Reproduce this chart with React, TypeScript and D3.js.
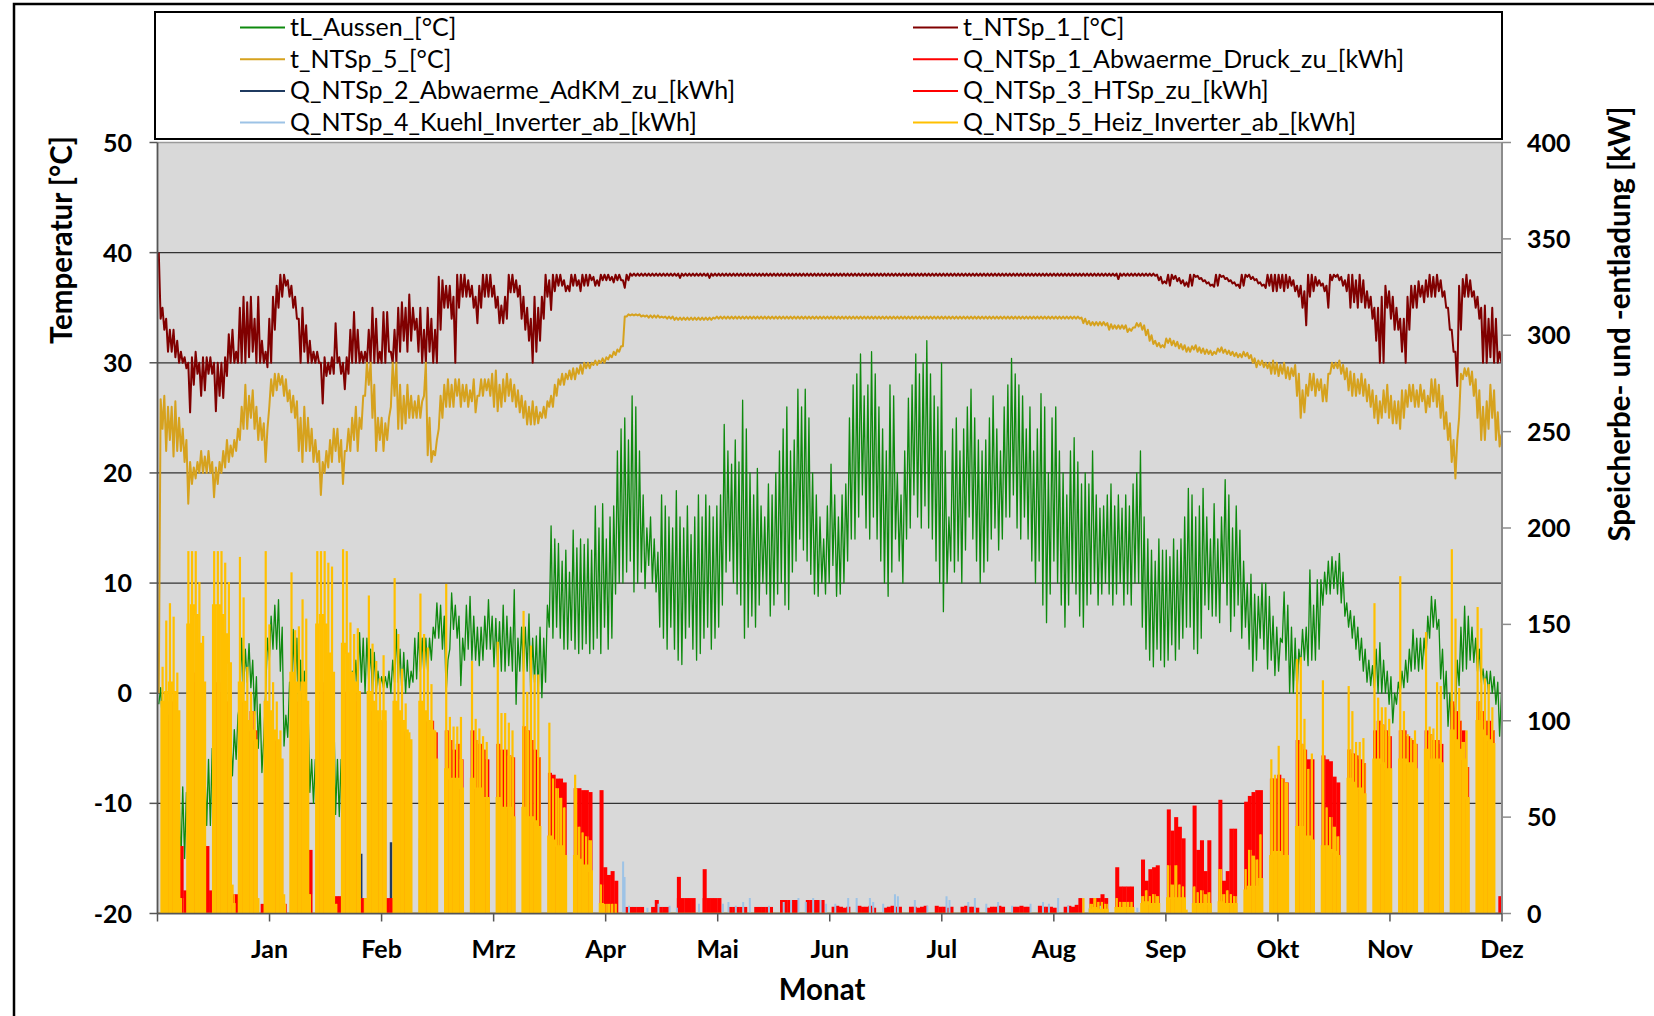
import React from "react";
import * as d3 from "d3";

// ---------- axes / categories ----------
const monthLabels = ["Jan", "Feb", "Mrz", "Apr", "Mai", "Jun", "Jul", "Aug", "Sep", "Okt", "Nov", "Dez"];
const tempTicks = [-20, -10, 0, 10, 20, 30, 40, 50];
const powerTicks = [0, 50, 100, 150, 200, 250, 300, 350, 400];
const DAYS = 365;

const seriesNames = [
  "tL_Aussen_[°C]", "t_NTSp_1_[°C]",
  "t_NTSp_5_[°C]", "Q_NTSp_1_Abwaerme_Druck_zu_[kWh]",
  "Q_NTSp_2_Abwaerme_AdKM_zu_[kWh]", "Q_NTSp_3_HTSp_zu_[kWh]",
  "Q_NTSp_4_Kuehl_Inverter_ab_[kWh]", "Q_NTSp_5_Heiz_Inverter_ab_[kWh]",
];
const seriesColors = ["#0E8A0E", "#800000", "#D6A21E", "#FF0000", "#1F3A60", "#FF0000", "#9DC3E6", "#FFC000"];

// ---------- daily values (one row = one week, day 0 .. 364) ----------
// tL_Aussen daily minimum / maximum [°C]
const tAussenMin = [
  -1, -3, -5, -9, -12, -15, -15.5,
  -15, -14, -13, -12, -12, -12.5, -12,
  -12, -10, -9, -9, -8, -8, -7.5,
  -6, -1, 0, 1, 0.5, -2, -5,
  -7.2, 0, 3, 4, 4, 2, -4.8,
  -4, -1, 0, -2, -3, -5, -9,
  -10, -10, -6, -3, -2, -6, -11,
  -11.2, -8, -5, -2, 0, 0, 1,
  0, 1, 0, 0, 0.5, 0.5, 0.5,
  0, 1, 1, 0, 0, 0.5, 1,
  1.3, 2, 1.5, 2, 3, 5, 5,
  4, 0, 4, 5.8, 5, 0.7, 3,
  4, 3, 3, 2.5, 3, 4, 4,
  2.4, 2.4, 2, 2, 2.5, 2, -1,
  2, 2, 2, -0.4, 1, 0, -0.4,
  1, 6, 5, 6, 5, 4, 4,
  4.8, 4, 3.6, 4, 4.5, 3.6, 4,
  5, 3.6, 6, 4, 5, 9, 10,
  10, 11, 12, 9.2, 10, 11, 9.5,
  11.6, 10, 9.2, 6, 5, 4, 6,
  4, 3, 2.6, 5, 6, 4, 3,
  3.6, 5, 6, 4, 5, 6, 8,
  11, 12, 10, 9, 8, 5, 6,
  7, 6, 8, 10, 9, 7, 8,
  9, 10, 8, 7.6, 11, 12, 14,
  13, 12, 10.8, 9, 8.8, 10, 9,
  10, 11.6, 8.8, 9, 10, 12, 14,
  14, 16, 18, 15, 14, 16, 14,
  12, 10, 8.8, 11, 14, 12, 10,
  14, 15, 18, 16, 15, 17, 15,
  14, 12, 10, 7.4, 10, 12, 11,
  12, 10, 13, 16, 14, 12, 10,
  11, 12, 14, 15, 13, 14, 16,
  16, 18, 15, 14, 16, 14, 12,
  10, 12, 8, 6.4, 9, 12, 10,
  8, 6, 8, 10, 9, 7, 6,
  8, 9, 10, 8, 9, 10, 9,
  8, 9, 10, 8, 9, 8, 10,
  10, 6, 4, 3, 2.4, 4, 3,
  2.4, 3, 4.4, 3, 4, 5, 6,
  6, 4, 3.6, 5, 8, 7.6, 7,
  7, 6.4, 10, 8, 5.6, 7, 8,
  5, 6, 4, 2, 3, 5, 4,
  2.2, 3, 1.6, 2, 4.6, 3, 0,
  0, 0, 2.5, 3, 2.5, 3, 3,
  4, 8, 9, 9, 9.5, 9, 8.2,
  7, 6, 5, 4, 3, 2, 1,
  0.7, 0.5, 0, 0, 0, -1, -2.7,
  -1, 0, 0.5, 1, 2, 2.2, 2,
  2.2, 3, 5, 6, 5.8, 1.3, -0.5,
  -3, -4.2, -2, 0.7, 2, 2.2, 3,
  2.8, 2, 1, 0.5, 0, 0, -1,
  -3.9,
];
const tAussenMax = [
  0.5, -1, -2, -4, -8, -9, -8.5,
  -9, -8, -7, -7, -7, -7, -6,
  -5, -4, -5, -5, -4, -4, -3.3,
  -2, 5, 4, 4.5, 3, 1.5, -1,
  -4, 5, 7, 8, 8.5, 6, -2,
  1, 5.8, 5, 3, 2, -1, -6,
  -6, -5, -1, 1, 1, -1, -6,
  -6, -3, 0, 2, 3, 5.5, 5,
  5, 4, 3.7, 2, 1.5, 1.5, 2,
  3, 5.8, 4, 3.7, 3, 2, 5,
  5.5, 5, 5, 5, 6, 8.2, 8,
  7, 3, 9.1, 8, 7, 5, 8,
  8.8, 7, 6, 6, 7, 8.5, 7,
  6.8, 6.5, 8, 7, 6, 9.4, 5,
  6, 6, 7.2, 5, 5.2, 6, 5,
  8, 15.2, 14, 13.6, 12, 13, 11,
  14.8, 13.2, 14, 13.5, 14, 13, 17,
  15, 17.2, 14, 16, 17, 22, 24,
  25, 23, 27, 26, 22, 18, 15,
  16, 14, 12.8, 18, 17, 16, 15,
  18.4, 16, 15, 17, 14.4, 16, 18,
  16, 18, 17, 16, 17, 18, 24.4,
  22, 20.8, 23, 21, 26.6, 24, 20,
  18, 20.4, 17, 16, 19, 18, 20,
  22, 24, 26, 22, 23, 27.6, 26,
  27.6, 25, 20, 18, 16, 14, 17,
  20.8, 18, 16, 18, 19, 25, 28,
  29, 30.8, 27, 28, 31, 29, 26,
  24, 22, 28, 27, 20, 18, 22,
  26.8, 28, 30.8, 29, 30, 32, 29,
  27, 26, 30, 22, 16, 24, 25,
  22, 24, 26, 27.6, 25, 23, 22,
  23, 25, 27, 24, 22, 26, 28,
  30.4, 29, 28, 27, 24, 26, 22,
  24, 27.2, 26, 20, 25, 26, 22,
  20, 18, 22, 23.2, 21, 19, 20,
  19, 22, 18, 16.8, 17, 18, 19,
  17, 18, 16.8, 18, 17, 19, 20,
  22, 16, 14, 13, 12, 14, 13,
  13, 12.4, 14, 13, 14, 16, 18.6,
  18, 16, 17, 18.6, 16, 14, 17.2,
  14, 16, 19.4, 18, 15, 17, 14.8,
  12, 10, 10.8, 9, 8.8, 10, 10,
  8.8, 7, 6, 5, 9.2, 8, 6,
  5, 4, 5.8, 6, 11.2, 8, 10.3,
  10.3, 11, 12, 12.4, 12, 12.7, 11,
  8.2, 7.5, 7, 6, 5, 4, 3,
  2.5, 4, 4.6, 3, 2, 1.5, 0,
  1, 2, 3, 4, 5.8, 5, 5,
  5, 7, 8.8, 8.5, 6.7, 4, 2,
  0, -1, 3, 6, 7.9, 7, 6,
  5, 4, 2.2, 2, 2, 1.5, 1,
  0,
];

// t_NTSp_1 daily maximum / minimum [°C]
const tNTSp1Max = [
  40, 35, 34, 33, 33, 32, 31,
  30.5, 30, 30.5, 31, 30, 30.5, 30.5,
  30.5, 30, 30, 30, 30.5, 32.6, 33,
  31, 35, 36, 35.5, 36, 34, 36,
  32, 31, 34, 36, 37, 38, 38,
  37.5, 37, 36, 34, 35, 33.4, 32,
  31, 31, 30, 30.5, 30, 30.5, 33.6,
  30.5, 30, 30.5, 33, 34.6, 33, 31,
  31, 33, 35, 34, 31, 34.6, 34.6,
  31, 33, 35, 35.5, 35, 36.2, 35,
  34, 35, 33, 35, 34, 33, 37.8,
  37.5, 37, 37, 36, 38, 38, 38,
  37.5, 37, 36, 37, 38, 38, 38,
  37, 36, 35.2, 36, 38, 38, 37.5,
  37, 36, 35, 34, 36, 35, 36,
  38, 37.5, 38, 38, 38, 37.5, 37,
  38, 38, 37.5, 38, 38, 38, 37.8,
  37.5, 38, 38, 38, 37.8, 38, 38,
  37.5, 38, 38.1, 38.1, 38.1, 38.1, 38.1,
  38.1, 38.1, 38.1, 38.1, 38.1, 38.1, 38.1,
  38.1, 38.1, 38.1, 38.1, 38.1, 38.1, 38.1,
  38.1, 38.1, 38.1, 38.1, 38.1, 38.1, 38.1,
  38.1, 38.1, 38.1, 38.1, 38.1, 38.1, 38.1,
  38.1, 38.1, 38.1, 38.1, 38.1, 38.1, 38.1,
  38.1, 38.1, 38.1, 38.1, 38.1, 38.1, 38.1,
  38.1, 38.1, 38.1, 38.1, 38.1, 38.1, 38.1,
  38.1, 38.1, 38.1, 38.1, 38.1, 38.1, 38.1,
  38.1, 38.1, 38.1, 38.1, 38.1, 38.1, 38.1,
  38.1, 38.1, 38.1, 38.1, 38.1, 38.1, 38.1,
  38.1, 38.1, 38.1, 38.1, 38.1, 38.1, 38.1,
  38.1, 38.1, 38.1, 38.1, 38.1, 38.1, 38.1,
  38.1, 38.1, 38.1, 38.1, 38.1, 38.1, 38.1,
  38.1, 38.1, 38.1, 38.1, 38.1, 38.1, 38.1,
  38.1, 38.1, 38.1, 38.1, 38.1, 38.1, 38.1,
  38.1, 38.1, 38.1, 38.1, 38.1, 38.1, 38.1,
  38.1, 38.1, 38.1, 38.1, 38.1, 38.1, 38.1,
  38.1, 38.1, 38.1, 38.1, 38.1, 38.1, 38.1,
  38.1, 38.1, 38.1, 38.1, 38.1, 38.1, 38.1,
  38.1, 38.1, 38.1, 38.1, 38.1, 38, 37.8,
  37.4, 38, 38, 37.9, 37.7, 37.5, 37.3,
  38, 38, 37.9, 37.7, 37.5, 37.3, 37.1,
  38, 38, 37.9, 37.7, 37.5, 37.3, 37.1,
  38, 38, 38, 37.8, 37.6, 37.3, 37.1,
  38, 38, 38, 38, 38, 38, 37.8,
  37.5, 37, 37, 36.5, 38, 38, 37.8,
  37.5, 37.2, 37, 38, 38, 38, 37.8,
  37.5, 38, 38, 37.5, 38, 37.5, 36.5,
  36, 35, 35, 36, 37, 36.5, 36,
  35, 34, 34, 36, 37, 37, 37.4,
  37, 37.5, 38, 37.8, 38, 37.5, 36.5,
  35, 33, 31, 37, 37.6, 38, 37.5,
  36.5, 36, 35, 35.2, 34, 35, 34,
  31,
];
const tNTSp1Min = [
  34, 33, 31, 31, 30.5, 30, 30,
  29.5, 25.5, 28, 29, 27, 27.5, 29,
  29, 25.6, 27, 26.8, 28.8, 30, 30,
  30, 30, 30, 30.5, 31, 30, 30,
  30, 29.6, 30, 33, 35, 36, 37,
  36, 35, 34, 30, 31, 30, 30,
  30, 30, 26.3, 28.8, 29, 29, 30,
  29, 27.6, 29, 30, 30, 30, 30,
  30, 30, 30, 30, 30, 30, 31,
  30, 30, 31, 32, 31, 32, 33,
  31, 30, 30, 31, 30, 30, 33,
  35, 35, 34, 30, 35, 36, 36,
  36, 35, 33.6, 35, 36, 36, 36,
  35, 33.6, 33.6, 34, 36.4, 36.4, 36,
  34, 33, 32, 30, 31, 32, 34,
  36, 34.8, 36.5, 37, 37, 36.5, 36.5,
  37, 37, 36.5, 37, 37, 37.5, 37,
  37, 37.5, 37.5, 37.5, 37.3, 37.5, 37.5,
  36.8, 37.5, 37.9, 37.9, 37.9, 37.9, 37.9,
  37.9, 37.9, 37.9, 37.9, 37.9, 37.9, 37.9,
  37.9, 37.7, 37.9, 37.9, 37.9, 37.9, 37.9,
  37.9, 37.9, 37.7, 37.9, 37.9, 37.9, 37.9,
  37.9, 37.9, 37.9, 37.9, 37.9, 37.9, 37.9,
  37.9, 37.9, 37.9, 37.9, 37.9, 37.9, 37.9,
  37.9, 37.9, 37.9, 37.9, 37.9, 37.9, 37.9,
  37.9, 37.9, 37.9, 37.9, 37.9, 37.9, 37.9,
  37.9, 37.9, 37.9, 37.9, 37.9, 37.9, 37.9,
  37.9, 37.9, 37.9, 37.9, 37.9, 37.9, 37.9,
  37.9, 37.9, 37.9, 37.9, 37.9, 37.9, 37.9,
  37.9, 37.9, 37.9, 37.9, 37.9, 37.9, 37.9,
  37.9, 37.9, 37.9, 37.9, 37.9, 37.9, 37.9,
  37.9, 37.9, 37.9, 37.9, 37.9, 37.9, 37.9,
  37.9, 37.9, 37.9, 37.9, 37.9, 37.9, 37.9,
  37.9, 37.9, 37.9, 37.9, 37.9, 37.9, 37.9,
  37.9, 37.9, 37.9, 37.9, 37.9, 37.9, 37.9,
  37.9, 37.9, 37.9, 37.9, 37.9, 37.9, 37.9,
  37.9, 37.9, 37.9, 37.9, 37.9, 37.9, 37.9,
  37.9, 37.6, 37.9, 37.9, 37.9, 37.9, 37.9,
  37.9, 37.9, 37.9, 37.9, 37.9, 37.5, 37.2,
  37.2, 37, 37.6, 37.4, 37.2, 37, 36.9,
  37, 37.8, 37.6, 37.4, 37.2, 37, 36.9,
  37, 37.8, 37.6, 37.4, 37.2, 37, 36.8,
  37, 37.8, 37.6, 37.5, 37.2, 37, 36.8,
  37, 36.5, 36.5, 36.8, 36.5, 36.8, 37,
  36.5, 36, 35, 33.4, 36, 36.5, 37,
  37, 36.5, 35, 37.5, 37.8, 37.5, 37,
  36.5, 35, 35.5, 35, 35.5, 35, 35,
  34, 32, 30, 30, 35, 34, 33,
  33, 31, 30, 33, 35, 35, 36,
  35.5, 36, 36, 36, 36.5, 36, 35,
  33, 31, 27.9, 33, 36, 36, 36,
  35, 34, 30, 30, 30.5, 30, 30,
  30,
];

// t_NTSp_5 daily minimum / maximum [°C]
const tNTSp5Min = [
  0, 24, 22, 23, 21.5, 22, 22,
  21, 17.2, 19, 19.5, 20, 20, 20,
  20, 17.8, 19, 20, 20.5, 21, 21.5,
  22, 23, 24, 24, 25, 24, 23,
  23, 21, 26, 27, 27.5, 28, 27,
  26.5, 25.5, 25, 22, 21, 22, 22,
  21, 21, 18, 20, 20.5, 21, 22,
  21, 19, 22, 22, 23, 22, 24,
  27, 28, 25, 22, 23, 22, 23,
  26, 27, 24, 24, 24.5, 25, 25,
  25, 25, 27, 21.6, 21, 21.6, 24,
  25, 26, 26, 26, 27, 26, 26.5,
  26, 26.5, 25.5, 27, 27, 27.5, 27,
  26, 25.6, 26, 26.5, 27, 26.5, 26,
  25.5, 25, 24.4, 24.4, 24.4, 24.5, 25,
  25, 26, 26, 27, 28, 28, 28.5,
  28.5, 28.5, 29, 29, 29.5, 29.5, 29.8,
  29.8, 30, 30, 30.3, 30.5, 30.7, 31,
  31.5, 34.2, 34.3, 34.3, 34.3, 34.2, 34.2,
  34.1, 34.1, 34.1, 34.1, 34.1, 34, 34,
  33.9, 33.9, 33.9, 33.9, 33.9, 33.9, 33.9,
  33.9, 33.9, 33.9, 33.9, 34, 34, 34,
  34, 34, 34, 34, 34, 34, 34,
  34, 34, 34, 34, 34, 34, 34,
  34, 34, 34, 34, 34, 34, 34,
  34, 34, 34, 34, 34, 34, 34,
  34, 34, 34, 34, 34, 34, 34,
  34, 34, 34, 34, 34, 34, 34,
  34, 34, 34, 34, 34, 34, 34,
  34, 34, 34, 34, 34, 34, 34,
  34, 34, 34, 34, 34, 34, 34,
  34, 34, 34, 34, 34, 34, 34,
  34, 34, 34, 34, 34, 34, 34,
  34, 34, 34, 34, 34, 34, 34,
  34, 34, 34, 34, 34, 34, 34,
  34, 34, 34, 34, 34, 34, 33.6,
  33.5, 33.4, 33.4, 33.4, 33.4, 33.4, 33,
  33.1, 33.1, 33.1, 33.1, 32.8, 32.9, 33.2,
  33.3, 33, 32.5, 32, 31.7, 31.5, 31.4,
  31.4, 31.8, 31.6, 31.5, 31.3, 31.2, 31,
  31, 31.2, 31, 30.9, 30.8, 30.8, 30.7,
  30.8, 31, 30.9, 30.8, 30.7, 30.6, 30.5,
  30.5, 30.6, 30.4, 30, 29.6, 29.8, 29.6,
  29.5, 29, 29, 28.8, 29, 28.6, 28.5,
  28.8, 27, 25, 25.5, 27, 27.5, 27,
  27.5, 26.5, 26.5, 29, 29.5, 29.5, 29,
  28.5, 27.5, 27, 27, 27.2, 27, 26.5,
  26, 25, 24.5, 25, 25.5, 25, 24.5,
  24.5, 24, 25, 26, 26.5, 26, 26,
  26.5, 25.5, 26, 26.5, 26, 25, 24,
  23, 21, 19.5, 25, 28.5, 28.8, 28,
  27, 25, 23, 23, 24, 25, 23,
  22.4,
];
const tNTSp5Max = [
  26.7, 27, 26, 26, 26.5, 25, 24,
  23, 21, 20.5, 21, 22, 21.5, 22,
  21, 20.5, 21, 22, 23, 22.5, 23,
  24, 26, 28, 27, 27.5, 26, 25,
  24.5, 24, 28.5, 29, 29, 28.8, 28.5,
  27.5, 27, 26.5, 25, 26, 25, 24,
  23, 22, 21, 22, 23, 24, 24,
  23, 22, 24, 25, 26, 25, 27,
  30, 30, 28, 25, 25, 24.5, 25,
  30, 30, 28, 27, 28, 27, 26.5,
  27, 26.5, 30, 25, 22, 23, 27,
  28, 28.5, 28, 28.5, 28.5, 28, 28,
  27.5, 28.5, 27, 28.5, 28.5, 28.5, 29,
  29.3, 28, 28.5, 29, 28.5, 28, 27.5,
  27, 26.5, 26, 26.5, 26, 25.5, 26,
  26.5, 27, 28, 28.5, 29, 29, 29.3,
  29.5, 29.5, 29.8, 30, 30, 30, 30.2,
  30.2, 30.4, 30.5, 30.7, 31, 31.2, 31.5,
  34.2, 34.4, 34.4, 34.4, 34.4, 34.3, 34.3,
  34.3, 34.3, 34.3, 34.2, 34.2, 34.2, 34.2,
  34.1, 34.1, 34.1, 34.1, 34.1, 34.1, 34.1,
  34.1, 34.1, 34.1, 34.1, 34.2, 34.2, 34.2,
  34.2, 34.2, 34.2, 34.2, 34.2, 34.2, 34.2,
  34.2, 34.2, 34.2, 34.2, 34.2, 34.2, 34.2,
  34.2, 34.2, 34.2, 34.2, 34.2, 34.2, 34.2,
  34.2, 34.2, 34.2, 34.2, 34.2, 34.2, 34.2,
  34.2, 34.2, 34.2, 34.2, 34.2, 34.2, 34.2,
  34.2, 34.2, 34.2, 34.2, 34.2, 34.2, 34.2,
  34.2, 34.2, 34.2, 34.2, 34.2, 34.2, 34.2,
  34.2, 34.2, 34.2, 34.2, 34.2, 34.2, 34.2,
  34.2, 34.2, 34.2, 34.2, 34.2, 34.2, 34.2,
  34.2, 34.2, 34.2, 34.2, 34.2, 34.2, 34.2,
  34.2, 34.2, 34.2, 34.2, 34.2, 34.2, 34.2,
  34.2, 34.2, 34.2, 34.2, 34.2, 34.2, 34.2,
  34.2, 34.2, 34.2, 34.2, 34.2, 34.2, 34.2,
  34.2, 34.2, 34.2, 34.2, 34.2, 34.1, 34,
  33.8, 33.7, 33.7, 33.7, 33.7, 33.6, 33.5,
  33.4, 33.4, 33.4, 33.4, 33.1, 33.2, 33.6,
  33.6, 33.4, 33, 32.5, 32, 31.8, 31.6,
  32.2, 32.2, 32, 31.9, 31.7, 31.6, 31.4,
  31.5, 31.6, 31.4, 31.3, 31.2, 31.1, 31,
  31.3, 31.4, 31.2, 31.1, 31, 30.9, 30.8,
  31, 30.9, 30.7, 30.4, 30.2, 30.2, 30,
  30, 30.2, 30, 29.8, 30, 29.6, 29.5,
  29.8, 29, 27.5, 28, 29, 29, 28.5,
  28.5, 28, 29, 30, 30, 30.2, 29.8,
  29.5, 29.2, 29, 28.5, 29, 28.5, 28,
  27.5, 27, 26.5, 27.5, 28, 27, 26.5,
  26.5, 27.5, 27.5, 28, 28, 27.5, 28,
  27.5, 27, 28.5, 28.5, 28, 27, 25.5,
  24.5, 23, 23, 29, 29.5, 29.5, 29.2,
  28.5, 27.5, 26, 26.5, 28, 27.5, 25.5,
  23.5,
];

// Q_NTSp_5 (Heiz_Inverter_ab): daily peak and typical daytime level [kW]
const q5Peak = [
  0, 128, 152, 161, 154, 125, 8,
  0, 188, 188, 188, 172, 144, 0,
  0, 188, 188, 188, 182, 172, 15,
  0, 185, 164, 128, 115, 105, 8,
  0, 188, 150, 120, 110, 95, 10,
  0, 177, 147, 149, 163, 153, 10,
  0, 188, 188, 188, 182, 180, 5,
  0, 189, 188, 151, 145, 148, 0,
  8, 165, 140, 131, 122, 134, 0,
  0, 174, 145, 127, 109, 94, 0,
  0, 166, 145, 138, 119, 95, 0,
  0, 171, 102, 97, 97, 102, 0,
  0, 131, 101, 96, 92, 89, 0,
  0, 141, 104, 104, 99, 95, 0,
  0, 157, 115, 139, 124, 124, 0,
  0, 99, 70, 65, 60, 55, 0,
  0, 72, 45, 42, 40, 38, 0,
  0, 15, 5, 5, 5, 5, 0,
  0, 0, 0, 0, 0, 0, 0,
  0, 0, 0, 0, 0, 0, 0,
  0, 0, 0, 0, 0, 0, 0,
  0, 0, 0, 0, 0, 0, 0,
  0, 0, 0, 0, 0, 0, 0,
  0, 0, 0, 0, 0, 0, 0,
  0, 0, 0, 0, 0, 0, 0,
  0, 0, 0, 0, 0, 0, 0,
  0, 0, 0, 0, 0, 0, 0,
  0, 0, 0, 0, 0, 0, 0,
  0, 0, 0, 0, 0, 0, 0,
  0, 0, 0, 0, 0, 0, 0,
  0, 0, 0, 0, 0, 0, 0,
  0, 0, 0, 0, 0, 0, 0,
  0, 0, 0, 0, 0, 0, 0,
  0, 0, 0, 0, 0, 0, 0,
  0, 0, 0, 0, 0, 0, 0,
  0, 0, 0, 0, 0, 0, 8,
  0, 5, 8, 6, 6, 5, 0,
  0, 8, 6, 6, 6, 6, 0,
  0, 9, 12, 9, 10, 9, 0,
  0, 25, 15, 25, 15, 14, 2,
  0, 14, 11, 12, 10, 11, 0,
  0, 23, 10, 12, 10, 9, 0,
  0, 23, 33, 30, 28, 41, 0,
  0, 80, 72, 87, 70, 68, 0,
  0, 132, 133, 101, 75, 83, 0,
  0, 121, 55, 50, 45, 40, 0,
  0, 118, 105, 89, 89, 91, 0,
  0, 161, 112, 107, 107, 101, 0,
  0, 175, 105, 93, 91, 95, 0,
  0, 146, 97, 96, 120, 118, 0,
  0, 189, 153, 117, 89, 95, 0,
  0, 159, 148, 122, 119, 107, 0,
  0,
];
const q5Body = [
  0, 110, 115, 120, 115, 105, 0,
  0, 150, 160, 155, 140, 120, 0,
  0, 160, 160, 155, 145, 130, 5,
  0, 120, 110, 100, 95, 90, 0,
  0, 110, 105, 95, 90, 80, 0,
  0, 125, 120, 115, 120, 110, 0,
  0, 150, 155, 150, 135, 125, 0,
  0, 140, 135, 125, 120, 115, 0,
  0, 115, 110, 105, 100, 105, 0,
  0, 110, 105, 100, 95, 90, 0,
  0, 110, 105, 100, 95, 80, 0,
  0, 75, 70, 70, 70, 65, 0,
  0, 70, 65, 65, 60, 60, 0,
  0, 60, 55, 55, 55, 50, 0,
  0, 55, 50, 50, 48, 45, 0,
  0, 40, 38, 35, 35, 30, 0,
  0, 30, 28, 25, 25, 22, 0,
  0, 5, 0, 0, 0, 0, 0,
  0, 0, 0, 0, 0, 0, 0,
  0, 0, 0, 0, 0, 0, 0,
  0, 0, 0, 0, 0, 0, 0,
  0, 0, 0, 0, 0, 0, 0,
  0, 0, 0, 0, 0, 0, 0,
  0, 0, 0, 0, 0, 0, 0,
  0, 0, 0, 0, 0, 0, 0,
  0, 0, 0, 0, 0, 0, 0,
  0, 0, 0, 0, 0, 0, 0,
  0, 0, 0, 0, 0, 0, 0,
  0, 0, 0, 0, 0, 0, 0,
  0, 0, 0, 0, 0, 0, 0,
  0, 0, 0, 0, 0, 0, 0,
  0, 0, 0, 0, 0, 0, 0,
  0, 0, 0, 0, 0, 0, 0,
  0, 0, 0, 0, 0, 0, 0,
  0, 0, 0, 0, 0, 0, 0,
  0, 0, 0, 0, 0, 0, 0,
  0, 2, 3, 2, 2, 2, 0,
  0, 3, 3, 3, 3, 3, 0,
  0, 5, 6, 5, 5, 5, 0,
  0, 8, 8, 8, 8, 8, 0,
  0, 5, 5, 5, 5, 5, 0,
  0, 6, 5, 5, 5, 5, 0,
  0, 12, 14, 14, 14, 18, 0,
  0, 30, 32, 32, 30, 30, 0,
  0, 45, 45, 40, 40, 38, 0,
  0, 35, 35, 33, 32, 30, 0,
  0, 70, 68, 65, 65, 62, 0,
  0, 80, 80, 78, 75, 75, 0,
  0, 80, 80, 78, 78, 75, 0,
  0, 85, 80, 80, 80, 78, 0,
  0, 95, 90, 85, 80, 60, 0,
  0, 100, 95, 92, 90, 88, 0,
  0,
];

// Q_NTSp_3 (HTSp_zu): daily peak [kW]
const q3Peak = [
  0, 92, 100, 110, 110, 100, 35,
  12, 120, 125, 120, 115, 105, 35,
  12, 120, 120, 115, 110, 110, 10,
  10, 120, 110, 100, 105, 95, 0,
  5, 110, 100, 95, 90, 80, 5,
  0, 100, 110, 105, 100, 95, 33,
  0, 110, 120, 115, 110, 100, 9,
  9, 115, 115, 110, 110, 115, 8,
  8, 110, 105, 100, 95, 100, 8,
  8, 110, 100, 95, 90, 85, 0,
  0, 110, 105, 100, 100, 94, 0,
  0, 95, 90, 85, 88, 80, 0,
  0, 95, 90, 88, 85, 80, 0,
  0, 88, 85, 85, 82, 81, 0,
  0, 97, 95, 90, 85, 81, 0,
  0, 73, 72, 70, 70, 68, 0,
  0, 65, 65, 64, 64, 63, 0,
  0, 64, 24, 20, 22, 17, 0,
  0, 0, 0, 0, 0, 0, 0,
  0, 0, 0, 0, 0, 0, 0,
  0, 19, 0, 0, 0, 0, 0,
  0, 23, 0, 0, 0, 0, 0,
  0, 0, 0, 0, 0, 0, 0,
  0, 0, 0, 0, 0, 0, 0,
  0, 0, 0, 0, 0, 0, 0,
  0, 0, 0, 0, 0, 0, 0,
  0, 0, 0, 0, 0, 0, 0,
  0, 0, 0, 0, 0, 0, 0,
  0, 0, 0, 0, 0, 0, 0,
  0, 0, 0, 0, 0, 0, 0,
  0, 0, 0, 0, 0, 0, 0,
  0, 0, 0, 0, 0, 0, 0,
  0, 0, 0, 0, 0, 0, 0,
  0, 0, 0, 0, 0, 0, 0,
  0, 0, 0, 0, 0, 0, 0,
  0, 0, 0, 0, 0, 0, 0,
  0, 8, 8, 8, 10, 8, 0,
  0, 24, 14, 14, 14, 14, 0,
  0, 28, 17, 23, 24, 25, 0,
  0, 54, 43, 50, 45, 39, 0,
  0, 56, 33, 38, 22, 38, 0,
  0, 59, 17, 22, 44, 44, 0,
  0, 58, 61, 63, 64, 64, 0,
  0, 70, 70, 72, 70, 68, 0,
  0, 90, 88, 85, 80, 80, 0,
  0, 82, 80, 79, 71, 68, 0,
  0, 85, 83, 82, 80, 78, 0,
  0, 95, 100, 98, 95, 92, 0,
  0, 95, 95, 92, 90, 88, 0,
  0, 95, 93, 90, 90, 88, 0,
  0, 110, 105, 100, 95, 76, 0,
  0, 110, 105, 100, 100, 95, 0,
  9,
];

// Q_NTSp_1 (Abwaerme_Druck_zu): daily level [kW]
const q1Level = [
  0, 0, 0, 0, 0, 0, 0,
  0, 0, 0, 0, 0, 0, 0,
  0, 0, 0, 0, 0, 0, 0,
  0, 0, 0, 0, 0, 0, 0,
  0, 0, 0, 0, 0, 0, 0,
  0, 0, 0, 0, 0, 0, 0,
  0, 0, 0, 0, 0, 0, 0,
  0, 0, 0, 0, 0, 0, 0,
  0, 0, 0, 0, 0, 0, 0,
  0, 0, 0, 0, 0, 0, 0,
  0, 0, 0, 0, 0, 0, 0,
  0, 0, 0, 0, 0, 0, 0,
  0, 0, 0, 0, 0, 0, 0,
  0, 0, 0, 0, 0, 0, 0,
  0, 0, 0, 0, 0, 0, 0,
  0, 0, 0, 0, 0, 0, 0,
  0, 0, 0, 0, 0, 0, 0,
  0, 0, 0, 0, 0, 0, 0,
  0, 3.4, 3.4, 3.4, 3.4, 3.4, 0,
  0, 3.4, 7, 3.4, 3.4, 3.4, 0,
  0, 8, 8, 8, 8, 8, 0,
  0, 8, 8, 8, 8, 8, 0,
  0, 3.4, 3.4, 3.4, 3.4, 3.4, 0,
  0, 3.4, 3.4, 3.4, 3.4, 3.4, 0,
  0, 7, 7, 7, 7, 7, 0,
  0, 7, 7, 7, 7, 7, 0,
  0, 3.5, 4, 3.5, 3, 3.5, 0,
  0, 4, 3.5, 3.5, 4, 3, 0,
  0, 3, 3.5, 4, 3.5, 3.5, 0,
  0, 3.5, 3.5, 3, 3.5, 4, 0,
  0, 4, 3.5, 3.5, 3, 3.5, 0,
  0, 3.5, 4, 3.5, 3.5, 3, 0,
  0, 3, 3.5, 3.5, 4, 3.5, 0,
  0, 3.5, 3.5, 4, 3.5, 3.5, 0,
  0, 4, 3.5, 3.5, 3.5, 3, 0,
  0, 3.5, 4, 3.5, 4.5, 8, 0,
  0, 0, 0, 0, 0, 0, 0,
  0, 0, 0, 0, 0, 0, 0,
  0, 0, 0, 0, 0, 0, 0,
  0, 0, 0, 0, 0, 0, 0,
  0, 0, 0, 0, 0, 0, 0,
  0, 0, 0, 0, 0, 0, 0,
  0, 0, 0, 0, 0, 0, 0,
  0, 0, 0, 0, 0, 0, 0,
  0, 0, 0, 0, 0, 0, 0,
  0, 0, 0, 0, 0, 0, 0,
  0, 0, 0, 0, 0, 0, 0,
  0, 0, 0, 0, 0, 0, 0,
  0, 0, 0, 0, 0, 0, 0,
  0, 0, 0, 0, 0, 0, 0,
  0, 0, 0, 0, 0, 0, 0,
  0, 0, 0, 0, 0, 0, 0,
  0,
];

// Q_NTSp_2 (Abwaerme_AdKM_zu): individual spikes [day, kW]
const q2Spikes: [number, number][] = [[55.3, 31], [63.4, 37], [71.3, 39]];

// Q_NTSp_4 (Kuehl_Inverter_ab): individual spikes [day, kW]
const q4Spikes: [number, number][] = [
  [126.4, 27], [126.8, 19], [128, 4], [133, 3], [136, 5], [139, 4], [141, 3], [147, 5],
  [153.5, 5], [155, 6], [157, 4], [159, 6], [160.8, 8], [166, 4], [170, 6], [172, 7],
  [174, 8], [176, 6], [178, 8], [180, 7], [181.5, 5], [184, 5], [187.5, 8], [189.8, 8],
  [193.4, 8], [194.3, 6], [197, 5], [200.2, 10], [201, 9], [205.6, 7], [209, 4], [214.2, 9],
  [215, 7], [220.1, 6], [221.9, 8], [225, 5], [228.2, 6], [232, 4], [237, 5], [240.4, 6],
  [242, 5], [244.5, 8], [247.2, 4], [253, 3], [256, 4], [262, 3], [266, 3],
];

const FONT = "Lato, 'Liberation Sans', Arial, sans-serif";

export default function App() {
  const W = 1654, H = 1016;
  const left = 157.5, right = 1502, top = 142.5, bottom = 913.5;

  const x = d3.scaleLinear().domain([0, DAYS]).range([left, right]);
  const yT = d3.scaleLinear().domain([-20, 50]).range([bottom, top]);
  const yQ = d3.scaleLinear().domain([0, 400]).range([bottom, top]);
  const monthTicks = d3.range(0, 13).map((k) => (k * DAYS) / 12);

  const zig = (a: number[], b: number[]) => {
    const pts: [number, number][] = [];
    const n = Math.min(a.length, b.length);
    for (let i = 0; i < n; i++) pts.push([i + 0.35, a[i]], [i + 0.85, b[i]]);
    return d3.line<[number, number]>().x((d) => x(d[0])).y((d) => yT(d[1]))(pts) || "";
  };
  const greenPath = zig(tAussenMin, tAussenMax);
  const redPath = zig(tNTSp1Max, tNTSp1Min);
  const goldPath = zig(tNTSp5Min, tNTSp5Max);

  const dw = x(1) - x(0);
  const bar = (v: number, i: number, fill: string, key: string) =>
    v > 0 ? (
      <rect key={key} x={x(i)} y={yQ(v)} width={dw + 0.35} height={yQ(0) - yQ(v)} fill={fill} />
    ) : null;

  const yellowBase =
    d3.line<number>().x((_, i) => x(i)).y((d) => yQ(d)).curve(d3.curveStepAfter)(q5Body.concat([0])) || "";

  const legendCols = [240, 913];
  const legendRows = [36, 67.7, 99.4, 131];

  return (
    <svg width={W} height={H} style={{ position: "absolute", left: 0, top: 0, background: "#fff" }} fontFamily={FONT}>
      <defs>
        <clipPath id="plotClip">
          <rect x={left} y={top} width={right - left} height={bottom - top} />
        </clipPath>
        <pattern id="yStripes" width="3" height="6" patternUnits="userSpaceOnUse">
          <rect x="0" y="0" width="1.4" height="6" fill="#FFC000" />
        </pattern>
      </defs>

      {/* outer frame */}
      <rect x={14} y={4} width={1700} height={1100} fill="none" stroke="#000" strokeWidth={2.5} />

      {/* plot area */}
      <rect x={left} y={top} width={right - left} height={bottom - top} fill="#D9D9D9" />
      {tempTicks.slice(0, -1).map((t) => (
        <line key={"g" + t} x1={left} x2={right} y1={yT(t)} y2={yT(t)} stroke="#333" strokeWidth={1.3} />
      ))}
      <line x1={left} x2={right} y1={top} y2={top} stroke="#9a9a9a" strokeWidth={1.5} />

      <g clipPath="url(#plotClip)">
        {/* temperatures (primary axis) */}
        <path d={greenPath} fill="none" stroke={seriesColors[0]} strokeWidth={1.3} strokeLinejoin="round" />
        <path d={redPath} fill="none" stroke={seriesColors[1]} strokeWidth={2} strokeLinejoin="round" />
        <path d={goldPath} fill="none" stroke={seriesColors[2]} strokeWidth={2} strokeLinejoin="round" />

        {/* Q_NTSp_1 */}
        {q1Level.map((v, i) => bar(v, i, seriesColors[3], "q1" + i))}
        {/* Q_NTSp_2 */}
        {q2Spikes.map(([d, v], i) => (
          <line key={"q2" + i} x1={x(d)} x2={x(d)} y1={yQ(0)} y2={yQ(v)} stroke={seriesColors[4]} strokeWidth={2.5} />
        ))}
        {/* Q_NTSp_3 */}
        {q3Peak.map((v, i) => bar(v, i, seriesColors[5], "q3" + i))}
        {/* Q_NTSp_4 */}
        {q4Spikes.map(([d, v], i) => (
          <line key={"q4" + i} x1={x(d)} x2={x(d)} y1={yQ(0)} y2={yQ(v)} stroke={seriesColors[6]} strokeWidth={2} />
        ))}
        {/* Q_NTSp_5 */}
        {q5Body.map((v, i) => bar(v, i, seriesColors[7], "q5b" + i))}
        {q5Body.map((v, i) => {
          const hi = Math.min(q3Peak[i] ?? 0, q5Peak[i] ?? 0);
          return hi > v ? (
            <rect key={"q5s" + i} x={x(i)} y={yQ(hi)} width={dw} height={yQ(v) - yQ(hi)} fill="url(#yStripes)" />
          ) : null;
        })}
        {q5Peak.map((v, i) =>
          v > (q5Body[i] ?? 0) ? (
            <rect key={"q5p" + i} x={x(i) + 0.3} y={yQ(v)} width={2.2} height={yQ(0) - yQ(v)} fill={seriesColors[7]} />
          ) : null
        )}
        <path d={yellowBase} fill="none" stroke={seriesColors[7]} strokeWidth={1.6} />
      </g>

      {/* axes lines */}
      <line x1={left} x2={left} y1={top} y2={bottom} stroke="#555" strokeWidth={1.8} />
      <line x1={right} x2={right} y1={top} y2={bottom} stroke="#8c8c8c" strokeWidth={2} />
      <line x1={left} x2={right} y1={bottom} y2={bottom} stroke="#555" strokeWidth={1.5} />

      {/* left axis */}
      {tempTicks.map((t) => (
        <g key={"lt" + t}>
          <line x1={left - 8} x2={left} y1={yT(t)} y2={yT(t)} stroke="#555" strokeWidth={1.5} />
          <text x={132} y={yT(t)} dy="0.36em" textAnchor="end" fontSize={25} fontWeight={700} fill="#000">
            {t}
          </text>
        </g>
      ))}
      {/* right axis */}
      {powerTicks.map((p) => (
        <g key={"rt" + p}>
          <line x1={right} x2={right + 9} y1={yQ(p)} y2={yQ(p)} stroke="#8c8c8c" strokeWidth={1.5} />
          <text x={1527} y={yQ(p)} dy="0.36em" textAnchor="start" fontSize={25} fontWeight={700} fill="#000">
            {p}
          </text>
        </g>
      ))}
      {/* x axis */}
      {monthTicks.map((d, k) => (
        <g key={"xt" + k}>
          <line x1={x(d)} x2={x(d)} y1={bottom} y2={bottom + 8} stroke="#555" strokeWidth={1.5} />
          {k > 0 ? (
            <text x={x(d)} y={958} textAnchor="middle" fontSize={25} fontWeight={700} fill="#000">
              {monthLabels[k - 1]}
            </text>
          ) : null}
        </g>
      ))}

      {/* axis titles */}
      <text x={822} y={1000} textAnchor="middle" fontSize={29.5} fontWeight={700}>
        Monat
      </text>
      <text transform={`translate(72,240) rotate(-90)`} textAnchor="middle" fontSize={29.5} fontWeight={700}>
        Temperatur [°C]
      </text>
      <text transform={`translate(1630,324) rotate(-90)`} textAnchor="middle" fontSize={29.5} fontWeight={700}>
        Speicherbe- und -entladung [kW]
      </text>

      {/* legend */}
      <rect x={155} y={12} width={1347} height={127} fill="#fff" stroke="#000" strokeWidth={2} />
      {seriesNames.map((name, i) => {
        const cx = legendCols[i % 2];
        const by = legendRows[Math.floor(i / 2)];
        return (
          <g key={"lg" + i}>
            <line x1={cx} x2={cx + 45} y1={by - 8.5} y2={by - 8.5} stroke={seriesColors[i]} strokeWidth={2} />
            <text x={cx + 50} y={by} fontSize={25} fill="#000">
              {name}
            </text>
          </g>
        );
      })}
    </svg>
  );
}
